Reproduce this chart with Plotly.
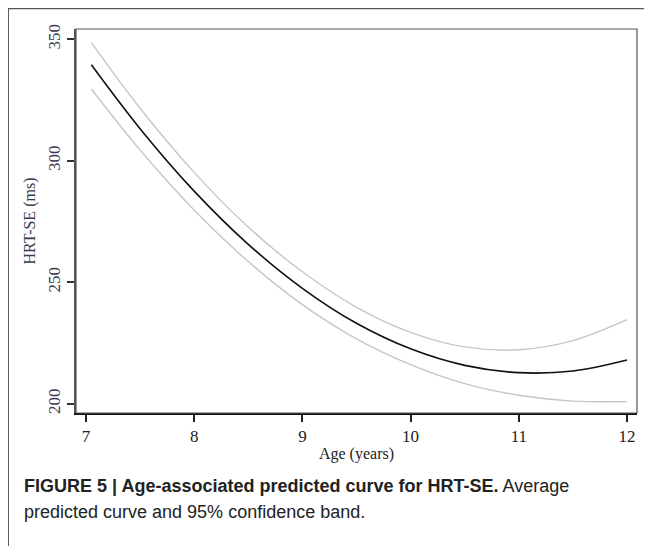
import plotly.graph_objects as go

# Data
ages = [7.05, 7.5, 8.0, 8.5, 9.0, 9.5, 10.0, 10.5, 11.0, 11.5, 12.0]
mean_curve = [339.5, 313.2, 287.5, 265.6, 247.5, 233.1, 222.6, 215.8, 212.8, 213.5, 218.0]
upper_band = [348.6, 321.6, 295.2, 272.7, 254.3, 239.7, 229.4, 223.4, 222.2, 226.0, 234.6]
lower_band = [329.5, 304.4, 279.7, 258.5, 240.8, 226.7, 216.1, 208.3, 203.5, 201.1, 200.9]

x_ticks = [7, 8, 9, 10, 11, 12]
y_ticks = [200, 250, 300, 350]

serif = "Liberation Serif, Times New Roman, serif"
sans = "Liberation Sans, Arial, sans-serif"

W, H = 644, 538          # page body has an 8px margin
ML, MR, MT, MB = 68, 15, 21, 133
PW, PH = W - ML - MR, H - MT - MB


def px(xp):
    return (xp - ML) / PW


def py(yp):
    return (H - MB - yp) / PH


fig = go.Figure()
for ys, col, w in [(upper_band, "#c6c6c6", 1.4), (lower_band, "#c6c6c6", 1.4), (mean_curve, "#111111", 1.6)]:
    fig.add_trace(go.Scatter(x=ages, y=ys, mode="lines",
                             line=dict(color=col, width=w, shape="spline", smoothing=1.0),
                             hoverinfo="skip", showlegend=False))

fig.update_layout(
    width=W, height=H,
    margin=dict(l=ML, r=MR, t=MT, b=MB),
    paper_bgcolor="white", plot_bgcolor="white",
    showlegend=False,
    xaxis=dict(range=[6.908, 12.092], tickvals=x_ticks, ticks="outside", ticklen=7,
               tickwidth=1.5, tickcolor="#222", showgrid=False, zeroline=False,
               showline=True, linecolor="#111", linewidth=2,
               tickfont=dict(family=serif, size=17, color="#222"),
               title=dict(text="Age (years)", font=dict(family=serif, size=16, color="#222"), standoff=2)),
    yaxis=dict(range=[196.2, 354.2], tickvals=y_ticks, ticks="outside", ticklen=7,
               tickwidth=1.5, tickcolor="#333", showgrid=False, zeroline=False,
               showline=True, linecolor="#555", linewidth=1.5, tickangle=-90,
               tickfont=dict(family=serif, size=17, color="#3a3a50"),
               title=dict(text="HRT-SE (ms)", font=dict(family=serif, size=16, color="#3a3a50"), standoff=6)),
)

# thin frame around plot area
fig.add_shape(type="rect", xref="paper", yref="paper", x0=0, y0=0, x1=1, y1=1,
              line=dict(color="#555", width=1.2), layer="above")
# outer figure border (top and left)
fig.add_shape(type="line", xref="paper", yref="paper", x0=px(0), x1=px(W), y0=py(0.6), y1=py(0.6),
              line=dict(color="#555", width=1.2))
fig.add_shape(type="line", xref="paper", yref="paper", x0=px(0.2), x1=px(0.2), y0=py(0), y1=py(H),
              line=dict(color="#555", width=1.5))

fig.add_annotation(xref="paper", yref="paper", x=px(14), y=py(478), xanchor="left", yanchor="middle",
                   showarrow=False, align="left",
                   text="<b>FIGURE 5 | Age-associated predicted curve for HRT-SE.</b> Average",
                   font=dict(family=sans, size=18, color="#222"))
fig.add_annotation(xref="paper", yref="paper", x=px(14), y=py(504), xanchor="left", yanchor="middle",
                   showarrow=False, align="left",
                   text="predicted curve and 95% confidence band.",
                   font=dict(family=sans, size=18, color="#222"))

fig.write_html("out.html")
